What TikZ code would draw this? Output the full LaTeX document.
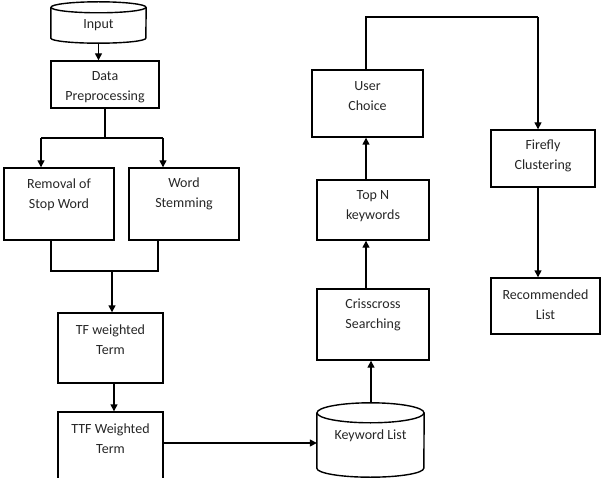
\documentclass[tikz,border=0pt]{standalone}
\usepackage{fontspec}
\setmainfont{Carlito}
\usetikzlibrary{arrows.meta,positioning}

\begin{document}
\begin{tikzpicture}[x=1pt, y=-1pt,
      box/.style={draw, line width=1.4pt, inner sep=0pt},
      drum/.style={inner sep=0pt},
      txt/.style={font=\fontsize{14}{20}\selectfont, align=center, text=black!85},
      lbl/.style={txt, anchor=center, yshift=-27pt},
      ln/.style={line width=1.4pt},
      arr/.style={-{Triangle[length=7pt,width=7pt]}, line width=1.4pt}
  ]
    \useasboundingbox (0,0) rectangle (604,478);
    \clip (0,0) rectangle (604,478);
    % left column
    \node[drum, minimum width=95pt, minimum height=41pt] (inp) at (98.5,22.5) {};
    \node[txt] (inpT) at (98.5,25) {Input};
    \node[box, minimum width=108pt, minimum height=47pt,
          label={[lbl]north:Data\\Preprocessing}] (dp) at (105,84.5) {};
    \node[box, minimum width=110pt, minimum height=72pt,
          label={[lbl]north:Removal of\\Stop Word}] (rem) at (59,204) {};
    \node[box, minimum width=110pt, minimum height=72pt,
          label={[lbl]north:Word\\Stemming}] (ws) at (184,204) {};
    \node[box, minimum width=105pt, minimum height=70pt,
          label={[lbl]north:TF weighted\\Term}] (tf) at (110.5,348) {};
    \node[box, minimum width=105pt, minimum height=72pt,
          label={[lbl]north:TTF Weighted\\Term}] (ttf) at (110.5,448) {};
    % middle column
    \node[drum, minimum width=107pt, minimum height=74pt] (kw) at (370.5,440) {};
    \node[txt] (kwT) at (370.5,436) {Keyword List};
    \node[box, minimum width=112pt, minimum height=71pt,
          label={[lbl]north:Crisscross\\Searching}] (cs) at (373,324.5) {};
    \node[box, minimum width=112pt, minimum height=60pt,
          label={[lbl]north:Top N\\keywords}] (topn) at (373,210) {};
    \node[box, minimum width=111pt, minimum height=67pt,
          label={[lbl]north:User\\Choice}] (uc) at (367.5,103.5) {};
    % right column
    \node[box, minimum width=104pt, minimum height=57pt,
          label={[lbl]north:Firefly\\Clustering}] (ff) at (543,158.5) {};
    \node[box, minimum width=109pt, minimum height=56pt,
          label={[lbl]north:Recommended\\List}] (rec) at (545.5,306) {};

    % the two drums
    \draw[ln] ([yshift=-5.5pt]inp.north) ellipse [x radius=47.5pt, y radius=5.5pt];
    \draw[ln] ([yshift=-5.5pt]inp.north west) -- ([yshift=5pt]inp.south west)
        arc[start angle=180, end angle=360, x radius=47.5pt, y radius=5pt]
        -- ([yshift=-5.5pt]inp.north east);
    \draw[ln] ([yshift=-10pt]kw.north) ellipse [x radius=53.5pt, y radius=10pt];
    \draw[ln] ([yshift=-10pt]kw.north west) -- ([yshift=9pt]kw.south west)
        arc[start angle=180, end angle=360, x radius=53.5pt, y radius=9pt]
        -- ([yshift=-10pt]kw.north east);

    \coordinate (sl) at (41,138);
    \coordinate (sr) at (163,138);
    \coordinate (jl) at (51,271);
    \coordinate (jr) at (158,271);
    \coordinate (jm) at (112,271);
    \coordinate (tt) at (114,383);
    \coordinate (kc) at (371,403);
    \coordinate (up) at (366,289);
    \coordinate (top) at (538,17);

    \draw[arr] (inp.south) -- (inp.south |- dp.north);
    \draw[ln] (dp.south) -- (dp.south |- sl);
    \draw[ln] (sl) -- (sr);
    \draw[arr] (sl) -- (sl |- rem.north);
    \draw[arr] (sr) -- (sr |- ws.north);
    \draw[ln] (jl |- rem.south) -- (jl) -- (jr) -- (jr |- ws.south);
    \draw[arr] (jm) -- (jm |- tf.north);
    \draw[arr] (tt |- tf.south) -- (tt |- ttf.north);
    \draw[arr] (ttf.east |- 0,443) -- (kw.west |- 0,443);
    \draw[arr] (kc |- kw.north) -- (kc |- cs.south);
    \draw[arr] (up |- cs.north) -- (up |- topn.south);
    \draw[arr] (up |- topn.north) -- (up |- uc.south);
    \draw[ln] (up |- uc.north) |- (top);
    \draw[arr] (top) -- (top |- ff.north);
    \draw[arr] (top |- ff.south) -- (top |- rec.north);
  \end{tikzpicture}
\end{document}
